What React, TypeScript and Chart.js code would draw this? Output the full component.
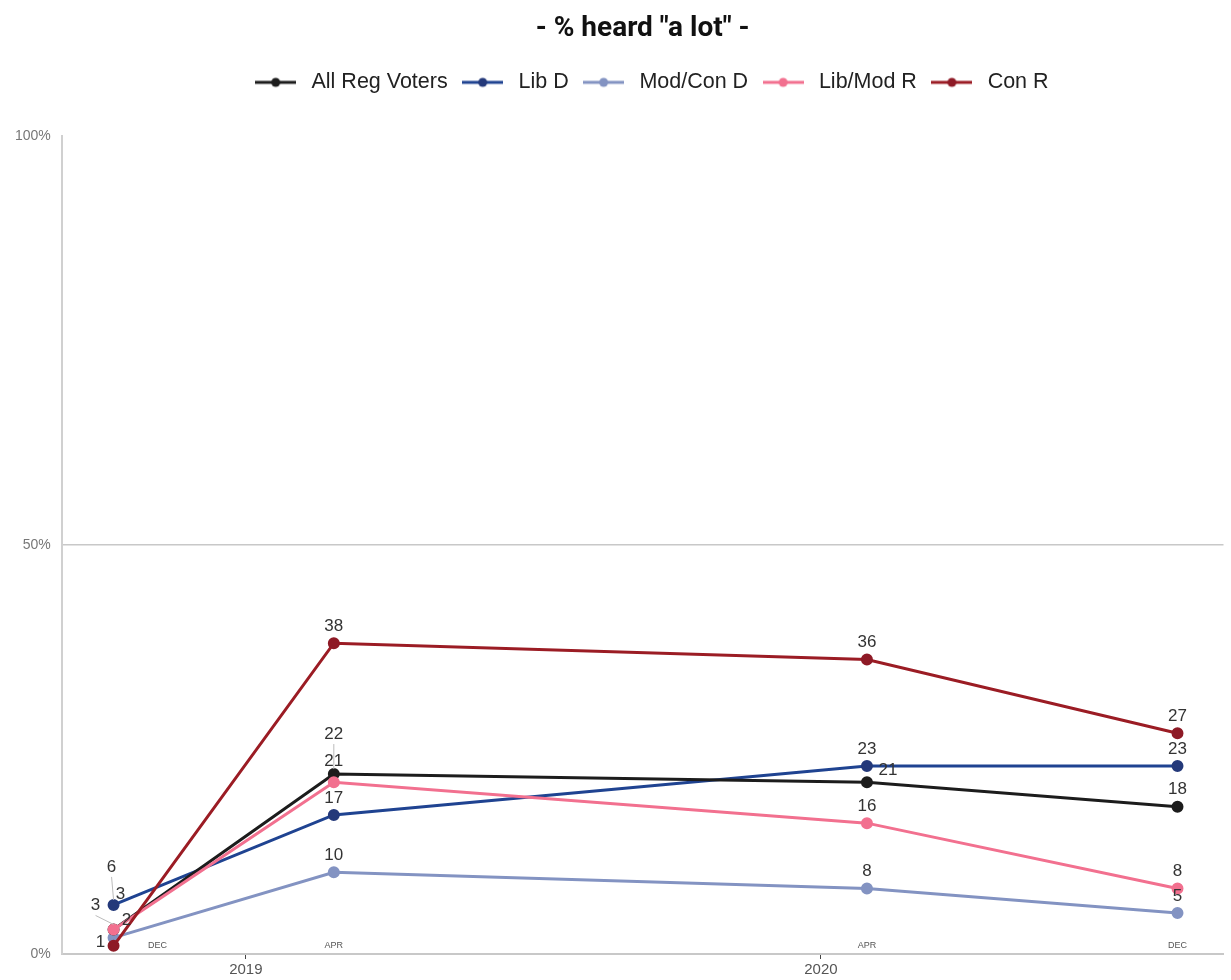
import React, { useEffect, useRef } from 'react';
import { Chart, registerables } from 'chart.js';
Chart.register(...registerables);

const titleText = '- % heard "a lot" -';
const seriesNames = ['All Reg Voters', 'Lib D', 'Mod/Con D', 'Lib/Mod R', 'Con R'];
const surveyDates = [2018.77, 2019.153, 2020.08, 2020.62];
const monthLabels = ['DEC', 'APR', 'APR', 'DEC'];
const allRegVoters = [3, 22, 21, 18];
const libD = [6, 17, 23, 23];
const modConD = [2, 10, 8, 5];
const libModR = [3, 21, 16, 8];
const conR = [1, 38, 36, 27];
const yearTicks = [2019, 2020];
const yTicks = [0, 50, 100];

const lineColors = ['#1c1c1c', '#1f4391', '#8393c2', '#f2708f', '#9b1c24'];
const pointColors = ['#1c1c1c', '#24397a', '#8393c2', '#f2708f', '#8e1a26'];

// label offsets [dx, dy, leaderLine] per series per point
const labelOffsets: [number, number, boolean][][] = [
  [[7, -35, false], [0, -40, true], [21, -12, false], [0, -17, false]],
  [[-2, -38, true], [0, -17, false], [0, -17, false], [0, -17, false]],
  [[13, -17, false], [0, -17, false], [0, -17, false], [0, -17, false]],
  [[-18, -24, true], [0, -21, false], [0, -17, false], [0, -17, false]],
  [[-13, -4, false], [0, -17, false], [0, -17, false], [0, -17, false]],
];
const monthLabelShift = [44, 0, 0, 0];

function makeSymbol(line: string, pt: string) {
  const c = document.createElement('canvas');
  c.width = 41;
  c.height = 12;
  const g = c.getContext('2d')!;
  g.strokeStyle = line;
  g.lineWidth = 3;
  g.beginPath();
  g.moveTo(0, 6);
  g.lineTo(41, 6);
  g.stroke();
  g.fillStyle = pt;
  g.beginPath();
  g.arc(20.5, 6, 4.5, 0, Math.PI * 2);
  g.fill();
  return c;
}

const legendSpacer = {
  id: 'legendSpacer',
  afterInit(chart: any) {
    const lg = chart.legend;
    if (!lg) return;
    const orig = lg.fit;
    lg.fit = function () {
      orig.call(this);
      this.height += 33;
    };
    const origDraw = lg.draw;
    lg.draw = function () {
      const c = this.ctx;
      c.save();
      c.translate(7, 0);
      origDraw.call(this);
      c.restore();
    };
  },
};

const labelPlugin = {
  id: 'valueLabels',
  afterDatasetsDraw(chart: any) {
    const ctx = chart.ctx;
    const xs = chart.scales.x;
    const ys = chart.scales.y;
    ctx.save();
    ctx.font = '9px "Liberation Sans", Arial, sans-serif';
    ctx.fillStyle = '#555';
    ctx.textAlign = 'center';
    ctx.textBaseline = 'middle';
    surveyDates.forEach((d, i) => {
      ctx.fillText(monthLabels[i], xs.getPixelForValue(d) + monthLabelShift[i], ys.getPixelForValue(0) - 8);
    });
    ctx.font = '17px "Liberation Sans", Arial, sans-serif';
    chart.data.datasets.forEach((ds: any, di: number) => {
      const meta = chart.getDatasetMeta(di);
      meta.data.forEach((pt: any, i: number) => {
        const [dx, dy, leader] = labelOffsets[di][i];
        const lx = pt.x + dx;
        const ly = pt.y + dy;
        if (leader) {
          ctx.strokeStyle = '#bbb';
          ctx.lineWidth = 1;
          ctx.beginPath();
          ctx.moveTo(lx, ly + 10);
          ctx.lineTo(pt.x, pt.y - 5);
          ctx.stroke();
        }
        ctx.fillStyle = '#333';
        ctx.fillText(String(ds.data[i].y), lx, ly);
      });
    });
    ctx.restore();
  },
};

export default function App() {
  const ref = useRef<HTMLCanvasElement>(null);
  useEffect(() => {
    document.body.style.margin = '0';
    const series = [allRegVoters, libD, modConD, libModR, conR];
    const symbols = series.map((_, i) => makeSymbol(lineColors[i], pointColors[i]));
    const chart = new Chart(ref.current!, {
      type: 'line',
      data: {
        datasets: series.map((vals, i) => ({
          label: seriesNames[i],
          data: vals.map((v, j) => ({ x: surveyDates[j], y: v })),
          borderColor: lineColors[i],
          backgroundColor: pointColors[i],
          pointBackgroundColor: pointColors[i],
          pointBorderColor: pointColors[i],
          borderWidth: 3,
          pointRadius: 4.5,
          tension: 0,
          order: [2, 3, 4, 1, 0][i],
        })),
      },
      options: {
        animation: false,
        responsive: false,
        layout: { padding: { left: 4, right: 3, top: 6, bottom: 0 } },
        plugins: {
          title: {
            display: true,
            fullSize: false,
            text: titleText,
            color: '#111',
            font: { family: 'Roboto', size: 28, weight: 'bold' },
            padding: { top: 6, bottom: 16 },
          },
          legend: {
            display: true,
            fullSize: false,
            labels: {
              usePointStyle: true,
              pointStyleWidth: 50,
              padding: 10,
              color: '#222',
              font: { family: '"Liberation Sans", Arial, sans-serif', size: 21.5 },
              generateLabels: (ch: any) =>
                ch.data.datasets.map((ds: any, i: number) => ({
                  text: ds.label,
                  pointStyle: symbols[i],
                  fillStyle: 'transparent',
                  strokeStyle: 'transparent',
                  lineWidth: 0,
                  hidden: false,
                  datasetIndex: i,
                  fontColor: '#222',
                })),
            },
          },
          tooltip: { enabled: false },
        },
        scales: {
          x: {
            type: 'linear',
            min: 2018.68,
            max: 2020.70,
            afterBuildTicks: (ax: any) => {
              ax.ticks = yearTicks.map((v) => ({ value: v }));
            },
            ticks: {
              color: '#555',
              font: { family: '"Liberation Sans", Arial, sans-serif', size: 15, lineHeight: 1.0 },
              callback: (v: any) => String(v),
              padding: 3,
              autoSkip: false,
              maxRotation: 0,
            },
            grid: { display: true, drawOnChartArea: false, drawTicks: true, tickLength: 5, color: '#444', lineWidth: 1 },
            border: { display: true, color: '#c8c8c8', width: 2 },
          },
          y: {
            min: 0,
            max: 100,
            afterBuildTicks: (ax: any) => {
              ax.ticks = yTicks.map((v) => ({ value: v }));
            },
            ticks: {
              color: '#777',
              font: { family: '"Liberation Sans", Arial, sans-serif', size: 14 },
              callback: (v: any) => v + '%',
              padding: 11,
            },
            grid: {
              drawTicks: false,
              color: (c: any) => (c.tick && c.tick.value === 50 ? '#c8c8c8' : 'transparent'),
              lineWidth: 1.5,
            },
            border: { display: true, color: '#d0d0d0', width: 2 },
          },
        },
      },
      plugins: [legendSpacer, labelPlugin],
    } as any);
    return () => chart.destroy();
  }, []);
  return (
    <div style={{ width: 1231, height: 980, background: '#fff' }}>
      <canvas ref={ref} width={1231} height={980} />
    </div>
  );
}
